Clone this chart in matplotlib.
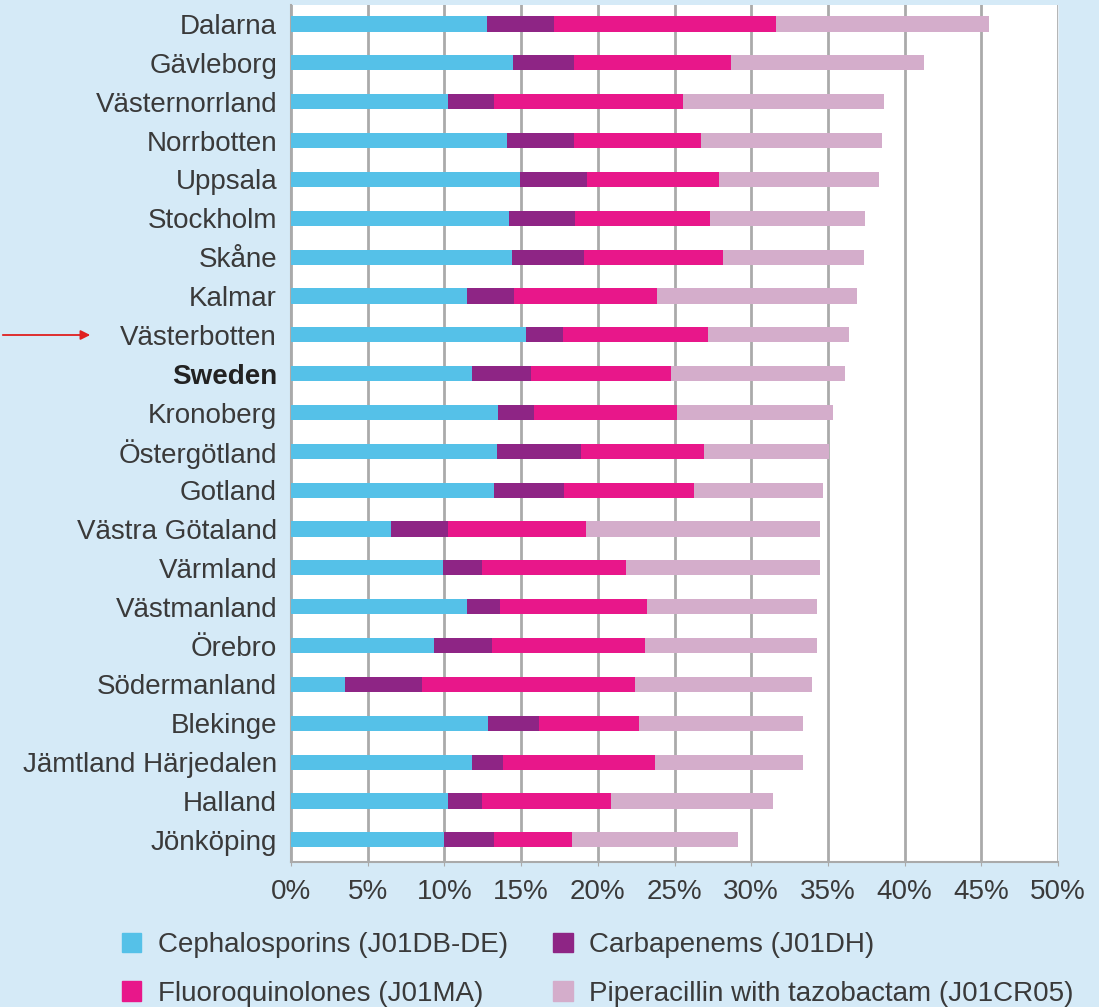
import matplotlib
matplotlib.use("Agg")
import matplotlib.pyplot as plt
from matplotlib.patches import Patch
import numpy as np

regions = ["Dalarna", "Gävleborg", "Västernorrland", "Norrbotten", "Uppsala", "Stockholm",
           "Skåne", "Kalmar", "Västerbotten", "Sweden", "Kronoberg", "Östergötland", "Gotland",
           "Västra Götaland", "Värmland", "Västmanland", "Örebro", "Södermanland", "Blekinge",
           "Jämtland Härjedalen", "Halland", "Jönköping"]

cephalosporins = [12.8, 14.5, 10.25, 14.1, 14.9, 14.2, 14.4, 11.5, 15.35, 11.8, 13.5, 13.45,
                  13.25, 6.55, 9.9, 11.5, 9.35, 3.55, 12.85, 11.8, 10.25, 10.0]
carbapenems = [4.35, 3.95, 3.0, 4.35, 4.4, 4.3, 4.7, 3.05, 2.35, 3.85, 2.35, 5.45,
               4.55, 3.7, 2.55, 2.15, 3.75, 5.0, 3.3, 2.05, 2.2, 3.25]
fluoroquinolones = [14.45, 10.25, 12.3, 8.25, 8.6, 8.8, 9.05, 9.3, 9.5, 9.15, 9.3, 8.0,
                    8.5, 9.0, 9.4, 9.55, 10.0, 13.9, 6.55, 9.85, 8.4, 5.1]
piperacillin = [13.9, 12.55, 13.1, 11.8, 10.45, 10.1, 9.2, 13.05, 9.15, 11.3, 10.15, 8.2,
                8.35, 15.25, 12.65, 11.1, 11.2, 11.5, 10.7, 9.65, 10.55, 10.8]

series_labels = ["Cephalosporins (J01DB-DE)", "Carbapenems (J01DH)",
                 "Fluoroquinolones (J01MA)", "Piperacillin with tazobactam (J01CR05)"]
colors = ["#55C1E8", "#8E2585", "#E8178A", "#D4ADCB"]
xticks = [0, 5, 10, 15, 20, 25, 30, 35, 40, 45, 50]

plt.rcParams['font.family'] = ['Liberation Sans', 'DejaVu Sans']
FS = 20
txt = "#3a3a3a"
bg = "#D5EAF7"
fig = plt.figure(figsize=(10.99, 10.07), dpi=100, facecolor=bg)
ax = fig.add_axes([291/1099, 1-862/1007, (1058-291)/1099, (862-5)/1007])
ax.set_facecolor("white")

y = np.arange(len(regions))
left = np.zeros(len(regions))
for vals, c, lab in zip([cephalosporins, carbapenems, fluoroquinolones, piperacillin], colors, series_labels):
    ax.barh(y, vals, left=left, height=0.39, color=c, label=lab, zorder=3)
    left += np.array(vals)

ax.set_ylim(21.57, -0.49)
ax.set_xlim(0, 50)
ax.set_xticks(xticks)
ax.set_xticklabels([f"{t}%" for t in xticks], fontsize=FS, color=txt)
ax.set_yticks(y)
ax.set_yticklabels(regions, fontsize=FS, color=txt)
for lbl in ax.get_yticklabels():
    if lbl.get_text() == "Sweden":
        lbl.set_fontweight("bold")
        lbl.set_color("#222222")
ax.tick_params(axis="y", length=0, pad=10)
ax.tick_params(axis="x", length=3, color="#aaaaaa", pad=9)
ax.grid(axis="x", color="#AAAAAA", linewidth=2, zorder=0)
ax.spines["top"].set_visible(False)
ax.spines["right"].set_color("#E6EEF5")
ax.spines["left"].set_color("#AAAAAA")
ax.spines["left"].set_linewidth(1.5)
ax.spines["bottom"].set_color("#AAAAAA")
ax.spines["bottom"].set_linewidth(1.5)

# red arrow pointing to Västerbotten
ax.annotate("", xy=(93, 1007-335), xycoords="figure pixels",
            xytext=(0, 1007-335), textcoords="figure pixels",
            arrowprops=dict(arrowstyle="-|>", color="#E02020", lw=1.3, mutation_scale=14))

handles = [Patch(color=c) for c in colors]
order = [0, 2, 1, 3]
fig.legend([handles[i] for i in order], [series_labels[i] for i in order],
           ncol=2, loc="upper left", bbox_to_anchor=(97/1099, 1-907/1007),
           frameon=False, fontsize=FS, handlelength=0.7, handleheight=0.7,
           handletextpad=0.6, columnspacing=1.62, labelspacing=0.82,
           labelcolor=txt)

fig.savefig("out.png", dpi=100, facecolor=bg)
